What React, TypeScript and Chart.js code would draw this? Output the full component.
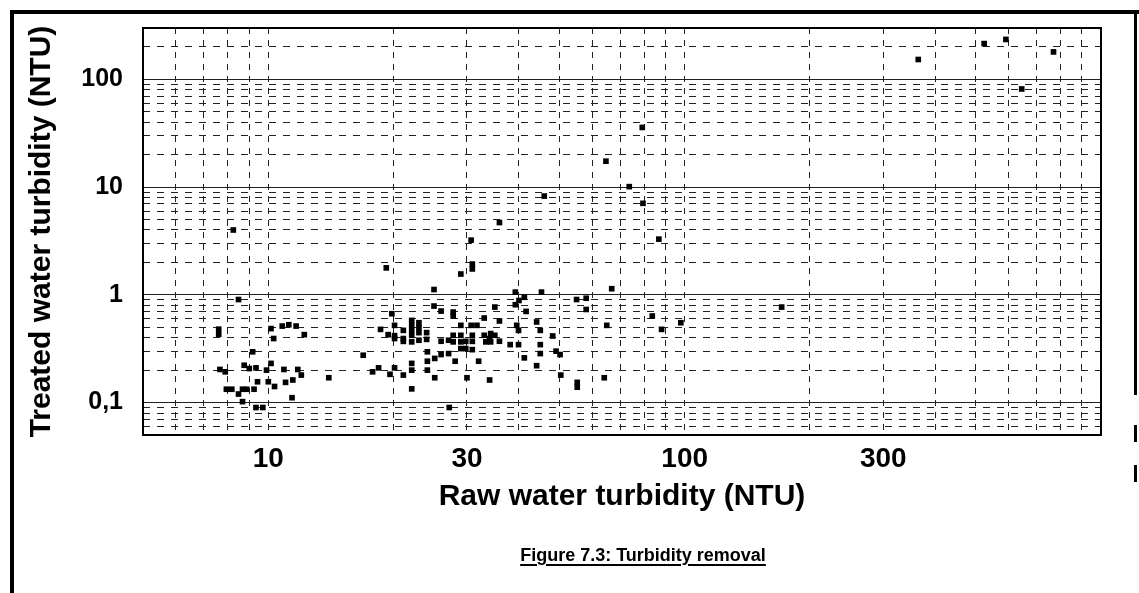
import React, { useEffect, useRef } from 'react';
import { Chart, registerables } from 'chart.js';

Chart.register(...registerables);

// Raw water turbidity (NTU) – x values
const rawTurbidity: number[] = [
  8.24, 8.48, 7.6, 7.6, 7.65, 7.88, 8.75, 9.0, 9.34, 9.9, 10.15, 10.9, 11.77, 12.0, 13.97, 9.17,
  10.15, 10.3, 10.8, 11.2, 11.66, 12.2, 7.93, 8.17, 8.48, 8.67, 8.87, 8.67, 9.24, 9.42, 10.0, 10.35,
  11.0, 11.45, 11.4, 9.34, 9.7,
  16.9, 17.8, 18.4, 19.2, 19.8, 18.6, 19.4, 19.6, 20.1, 20.1, 20.1, 20.1, 21.1, 21.1, 21.1, 21.1,
  22.1, 22.1, 22.1, 22.1, 22.1, 22.1, 22.1, 22.1, 23.0, 23.0, 23.0, 23.0, 24.0, 24.0, 24.1, 24.1, 24.1,
  25.0, 25.0, 25.1, 25.1, 26.0, 26.0, 26.0, 27.1, 27.1, 27.8, 27.8, 27.8, 27.8, 28.1, 27.2,
  29.0, 29.0, 29.0, 29.0, 29.0, 29.8, 29.8, 30.0, 30.7, 30.9, 30.9, 30.7, 30.9, 30.9, 30.9, 31.7, 32.0,
  33.0, 33.0, 33.3, 34.0, 34.2, 34.2, 35.0, 35.0, 35.9, 35.9, 34.0, 35.9,
  38.1, 39.2, 39.2, 40.0, 39.5, 39.9, 39.9, 41.2, 41.6, 41.2, 44.1, 44.1, 45.3, 45.0, 45.0, 45.0, 46.0,
  48.2, 49.1, 50.2, 50.4, 55.0, 55.2, 55.2, 58.0, 58.0, 64.1, 64.7, 65.0, 66.8, 73.6, 79.1, 79.4,
  83.6, 86.7, 88.0, 97.9, 171, 364, 524, 591, 645, 769,
];

// Treated water turbidity (NTU) – y values
const treatedTurbidity: number[] = [
  4.0, 0.905, 0.48, 0.43, 0.203, 0.193, 0.222, 0.207, 0.21, 0.2, 0.231, 0.203, 0.203, 0.18, 0.17, 0.296,
  0.486, 0.393, 0.513, 0.528, 0.513, 0.427, 0.133, 0.133, 0.12, 0.133, 0.133, 0.102, 0.133, 0.156, 0.156, 0.141,
  0.154, 0.162, 0.111, 0.09, 0.09,
  0.275, 0.193, 0.21, 1.78, 0.668, 0.478, 0.427, 0.183, 0.521, 0.418, 0.393, 0.21, 0.468, 0.393, 0.37, 0.18,
  0.579, 0.521, 0.468, 0.421, 0.366, 0.231, 0.2, 0.134, 0.551, 0.496, 0.446, 0.379, 0.446, 0.386, 0.296, 0.242, 0.2,
  1.12, 0.787, 0.257, 0.17, 0.707, 0.371, 0.279, 0.379, 0.285, 0.692, 0.636, 0.421, 0.366, 0.242, 0.09,
  1.56, 0.521, 0.421, 0.366, 0.317, 0.37, 0.317, 0.17, 3.22, 1.93, 1.74, 0.521, 0.421, 0.37, 0.31, 0.521, 0.242,
  0.609, 0.421, 0.366, 0.393, 0.437, 0.366, 0.421, 0.77, 0.572, 0.371, 0.162, 4.69,
  0.345, 1.06, 0.81, 0.886, 0.521, 0.468, 0.345, 0.95, 0.702, 0.26, 0.56, 0.22, 1.06, 0.468, 0.345, 0.285, 8.26,
  0.415, 0.3, 0.279, 0.18, 0.905, 0.154, 0.139, 0.93, 0.732, 0.17, 17.4, 0.521, 1.14, 10.1, 35.8, 7.07,
  0.636, 3.29, 0.478, 0.551, 0.77, 153, 215, 235, 81.5, 180,
];

const xTickValues: number[] = [10, 30, 100, 300];
const xTickText: string[] = ['10', '30', '100', '300'];
const yTickValues: number[] = [0.1, 1, 10, 100];
const yTickText: string[] = ['0,1', '1', '10', '100'];

const X_MIN = 5;
const X_MAX = 1000;
const Y_MIN = 0.05;
const Y_MAX = 300;

const FONT = "'Liberation Sans', Arial, Helvetica, sans-serif";

function logGrid(min: number, max: number): number[] {
  const out: number[] = [];
  for (let e = -3; e <= 4; e++) {
    for (let m = 1; m <= 9; m++) {
      const v = Number((m * Math.pow(10, e)).toPrecision(6));
      if (v >= min - 1e-9 && v <= max + 1e-9) out.push(v);
    }
  }
  return out;
}

function isDecade(v: number | undefined): boolean {
  if (v === undefined || v <= 0) return false;
  const l = Math.log10(v);
  return Math.abs(l - Math.round(l)) < 1e-6;
}

function labelFor(v: number, values: number[], texts: string[]): string {
  for (let i = 0; i < values.length; i++) {
    if (Math.abs(values[i] - v) < 1e-9 * Math.max(1, v)) return texts[i];
  }
  return '';
}

const framePlugin = {
  id: 'figureFrame',
  beforeDraw(chart: any) {
    const ctx = chart.ctx as CanvasRenderingContext2D;
    ctx.save();
    ctx.fillStyle = '#ffffff';
    ctx.fillRect(0, 0, chart.width, chart.height);
    ctx.fillStyle = '#000000';
    // outer figure border (top, left, right pieces)
    ctx.fillRect(10, 10, chart.width - 10, 4);
    ctx.fillRect(10, 10, 4, chart.height - 10);
    ctx.fillRect(1134, 10, 3, 385);
    ctx.fillRect(1134, 425, 3, 17);
    ctx.fillRect(1134, 465, 3, 17);
    ctx.restore();
  },
  afterDraw(chart: any) {
    const { left, top, right, bottom } = chart.chartArea;
    const ctx = chart.ctx as CanvasRenderingContext2D;
    ctx.save();
    ctx.strokeStyle = '#000000';
    ctx.lineWidth = 2;
    ctx.strokeRect(left, top, right - left, bottom - top);
    ctx.restore();
  },
};

export default function App() {
  const canvasRef = useRef<HTMLCanvasElement | null>(null);

  useEffect(() => {
    if (!canvasRef.current) return;
    const points = rawTurbidity.map((x, i) => ({ x, y: treatedTurbidity[i] }));
    const xGrid = logGrid(X_MIN, X_MAX);
    const yGrid = logGrid(Y_MIN, Y_MAX);

    const chart = new Chart(canvasRef.current, {
      type: 'scatter',
      data: {
        datasets: [
          {
            data: points,
            pointStyle: 'rect',
            pointRadius: 4,
            pointHoverRadius: 4,
            backgroundColor: '#000000',
            borderColor: '#000000',
            borderWidth: 0,
          },
        ],
      },
      options: {
        animation: false,
        responsive: false,
        devicePixelRatio: 1,
        events: [],
        layout: { padding: { left: 0, top: 28, right: 38, bottom: 78 } },
        plugins: {
          legend: { display: false },
          tooltip: { enabled: false },
          title: { display: false },
        },
        scales: {
          x: {
            type: 'logarithmic',
            min: X_MIN,
            max: X_MAX,
            afterBuildTicks: (s: any) => {
              s.ticks = xGrid.map((v) => ({ value: v }));
            },
            afterFit: (s: any) => {
              s.height = 80;
              s.paddingLeft = 0;
              s.paddingRight = 0;
            },
            ticks: {
              autoSkip: false,
              maxRotation: 0,
              minRotation: 0,
              padding: 7,
              color: '#000000',
              font: { family: FONT, size: 28, weight: 'bold' },
              callback: (v: any) => labelFor(Number(v), xTickValues, xTickText),
            },
            grid: { color: '#222222', lineWidth: 1, drawTicks: false },
            border: { display: false, dash: [6, 6] },
            title: {
              display: true,
              text: 'Raw water turbidity (NTU)',
              color: '#000000',
              font: { family: FONT, size: 30, weight: 'bold' },
              padding: 0,
            },
          },
          y: {
            type: 'logarithmic',
            min: Y_MIN,
            max: Y_MAX,
            afterBuildTicks: (s: any) => {
              s.ticks = yGrid.map((v) => ({ value: v }));
            },
            afterFit: (s: any) => {
              s.width = 143;
              s.paddingTop = 0;
              s.paddingBottom = 0;
            },
            ticks: {
              autoSkip: false,
              padding: 20,
              color: '#000000',
              font: { family: FONT, size: 25, weight: 'bold' },
              callback: (v: any) => labelFor(Number(v), yTickValues, yTickText),
            },
            grid: { color: '#222222', lineWidth: 1, drawTicks: false },
            border: {
              display: false,
              dash: (ctx: any) => (ctx.tick && isDecade(ctx.tick.value) ? [] : [7, 7]),
            },
            title: {
              display: true,
              text: 'Treated water turbidity (NTU)',
              color: '#000000',
              font: { family: FONT, size: 30, weight: 'bold' },
              padding: { top: 24, bottom: 0 },
            },
          },
        },
      },
      plugins: [framePlugin],
    } as any);

    return () => chart.destroy();
  }, []);

  return (
    <div style={{ position: 'absolute', left: 0, top: 0, width: 1139, height: 593, background: '#fff', overflow: 'hidden' }}>
      <canvas ref={canvasRef} width={1139} height={593} style={{ width: 1139, height: 593, display: 'block' }} />
      <div
        style={{
          position: 'absolute',
          left: 643,
          top: 546,
          transform: 'translateX(-50%)',
          whiteSpace: 'nowrap',
          fontFamily: FONT,
          fontWeight: 'bold',
          fontSize: 18,
          lineHeight: '18px',
          color: '#000',
          textDecoration: 'underline',
          textDecorationThickness: '2px',
          textUnderlineOffset: '3px',
        }}
      >
        Figure 7.3: Turbidity removal
      </div>
    </div>
  );
}
